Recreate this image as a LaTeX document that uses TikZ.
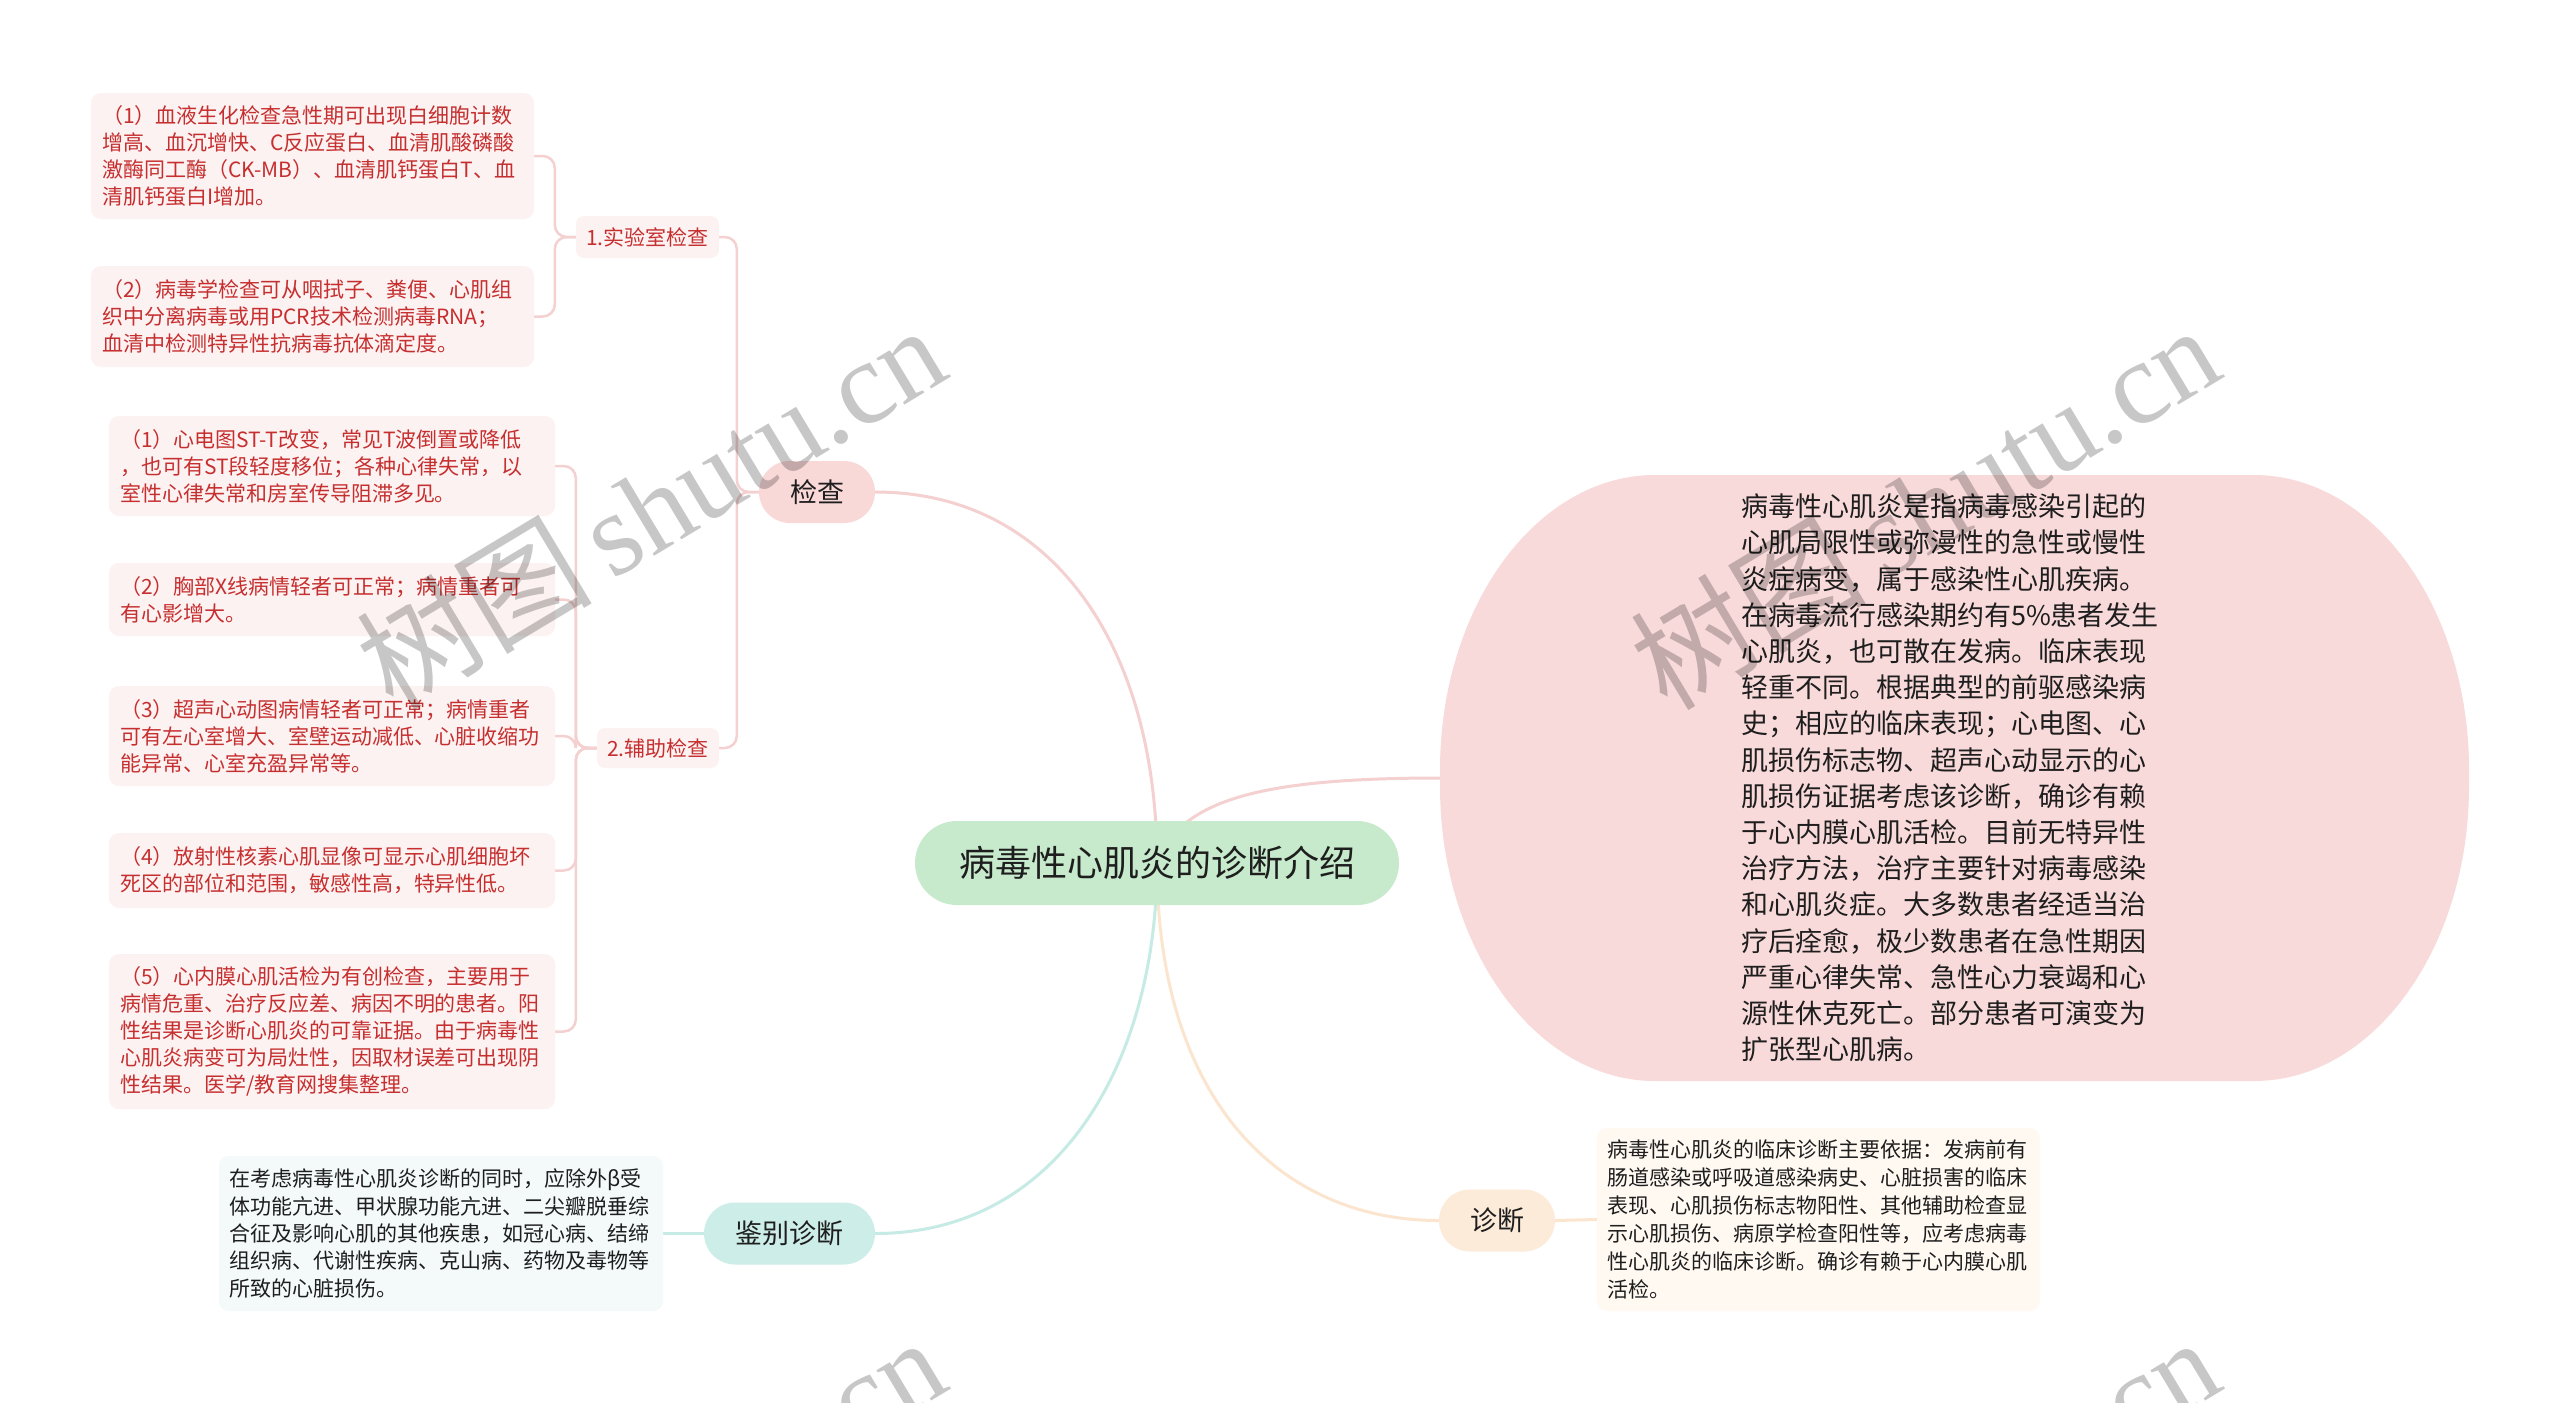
\documentclass[tikz,border=0pt]{standalone}
\usepackage{fontspec}
\newfontfamily\cjk{Noto Sans CJK SC}
\newfontfamily\wmserif{Liberation Serif}
\usetikzlibrary{backgrounds}
\definecolor{pinkline}{HTML}{F5D0D0}
\definecolor{tealline}{HTML}{C6EBE5}
\definecolor{peachline}{HTML}{FCE5CF}
\definecolor{rootfill}{HTML}{C6EACB}
\definecolor{jcfill}{HTML}{F9D8D8}
\definecolor{jbfill}{HTML}{CDEEE8}
\definecolor{zdfill}{HTML}{FDEBD9}
\definecolor{ellfill}{HTML}{F9DADA}
\definecolor{subfill}{HTML}{FDF2F2}
\definecolor{redtext}{HTML}{C62F2F}
\definecolor{jbsub}{HTML}{F3FAF9}
\definecolor{zdsub}{HTML}{FFF9F2}
\definecolor{darktext}{HTML}{1E1E1E}
\begin{document}
\begin{tikzpicture}[x=1pt,y=-1pt,
  rootnode/.style={fill=rootfill, rounded corners=42pt, minimum width=484pt, minimum height=84pt, inner sep=0pt, font=\cjk\fontsize{36}{40}\selectfont, text=darktext},
  topic/.style={rounded corners=31pt, minimum height=62pt, inner sep=0pt, font=\cjk\fontsize{27}{30}\selectfont, text=darktext},
  subtopic/.style={fill=subfill, rounded corners=8pt, minimum height=42pt, inner sep=0pt, font=\cjk\fontsize{21}{24}\selectfont, text=redtext},
  redbox/.style={fill=subfill, rounded corners=10pt, inner xsep=11pt, inner ysep=0pt, align=left, font=\cjk\fontsize{21}{27}\selectfont, text=redtext},
  darkbox/.style={rounded corners=10pt, inner xsep=10pt, inner ysep=0pt, align=left, text=darktext},
  conn/.style={line width=3pt, line cap=round},
  subconn/.style={line width=2.5pt, line cap=round, pinkline, rounded corners=12pt},
  wm/.style={rotate=31, text=black, opacity=0.22, inner sep=0pt}
]
\useasboundingbox (0,0) rectangle (2560,1403);

% root and main topics
\node[rootnode] (root) at (1157,863) {病毒性心肌炎的诊断介绍};
\node[topic, fill=jcfill, minimum width=116pt] (jc) at (817,492) {检查};
\node[topic, fill=jbfill, minimum width=171pt] (jb) at (789.5,1233.5) {鉴别诊断};
\node[topic, fill=zdfill, minimum width=116pt] (zd) at (1497,1220.5) {诊断};

% sub topics
\node[subtopic, minimum width=143pt] (lab) at (647.5,237) {1.实验室检查};
\node[subtopic, minimum width=122pt, minimum height=40pt] (fz) at (658,748) {2.辅助检查};

% lab boxes
\node[redbox, text width=421pt, minimum height=126pt] (l1) at (312.5,156) {（1）血液生化检查急性期可出现白细胞计数\\增高、血沉增快、C反应蛋白、血清肌酸磷酸\\激酶同工酶（CK-MB）、血清肌钙蛋白T、血\\清肌钙蛋白I增加。};
\node[redbox, text width=421pt, minimum height=101pt] (l2) at (312.5,316.5) {（2）病毒学检查可从咽拭子、粪便、心肌组\\织中分离病毒或用PCR技术检测病毒RNA；\\血清中检测特异性抗病毒抗体滴定度。};

% auxiliary boxes
\node[redbox, text width=424pt, minimum height=100pt] (a1) at (332,466) {（1）心电图ST-T改变，常见T波倒置或降低\\，也可有ST段轻度移位；各种心律失常，以\\室性心律失常和房室传导阻滞多见。};
\node[redbox, text width=424pt, minimum height=73pt] (a2) at (332,599.5) {（2）胸部X线病情轻者可正常；病情重者可\\有心影增大。};
\node[redbox, text width=424pt, minimum height=100pt] (a3) at (332,736) {（3）超声心动图病情轻者可正常；病情重者\\可有左心室增大、室壁运动减低、心脏收缩功\\能异常、心室充盈异常等。};
\node[redbox, text width=424pt, minimum height=75pt] (a4) at (332,870.5) {（4）放射性核素心肌显像可显示心肌细胞坏\\死区的部位和范围，敏感性高，特异性低。};
\node[redbox, text width=424pt, minimum height=155pt] (a5) at (332,1031.5) {（5）心内膜心肌活检为有创检查，主要用于\\病情危重、治疗反应差、病因不明的患者。阳\\性结果是诊断心肌炎的可靠证据。由于病毒性\\心肌炎病变可为局灶性，因取材误差可出现阴\\性结果。医学/教育网搜集整理。};

% differential diagnosis box
\node[darkbox, fill=jbsub, text width=424pt, minimum height=155pt, font=\cjk\fontsize{21}{27.3}\selectfont] (jbt) at (441,1233.5) {在考虑病毒性心肌炎诊断的同时，应除外β受\\体功能亢进、甲状腺功能亢进、二尖瓣脱垂综\\合征及影响心肌的其他疾患，如冠心病、结缔\\组织病、代谢性疾病、克山病、药物及毒物等\\所致的心脏损伤。};

% diagnosis box
\node[darkbox, fill=zdsub, text width=423pt, minimum height=183pt, font=\cjk\fontsize{21}{28}\selectfont] (zdt) at (1818.5,1219.5) {病毒性心肌炎的临床诊断主要依据：发病前有\\肠道感染或呼吸道感染病史、心脏损害的临床\\表现、心肌损伤标志物阳性、其他辅助检查显\\示心肌损伤、病原学检查阳性等，应考虑病毒\\性心肌炎的临床诊断。确诊有赖于心内膜心肌\\活检。};

% big rounded description
\node[minimum width=1029pt, minimum height=606pt, inner sep=0pt] (ell) at (1954.5,778) {};
\fill[ellfill] (1655,475) -- (2254,475)
  .. controls (2372.7,475) and (2469,607.1) .. (2469,770) -- (2469,786)
  .. controls (2469,948.9) and (2372.7,1081) .. (2254,1081) -- (1655,1081)
  .. controls (1536.3,1081) and (1440,948.9) .. (1440,786) -- (1440,770)
  .. controls (1440,607.1) and (1536.3,475) .. (1655,475) -- cycle;
\node[align=left, inner sep=0pt, text=darktext, font=\cjk\fontsize{27}{36.2}\selectfont] (elltext) at (1950,778) {病毒性心肌炎是指病毒感染引起的\\心肌局限性或弥漫性的急性或慢性\\炎症病变，属于感染性心肌疾病。\\在病毒流行感染期约有5\%患者发生\\心肌炎，也可散在发病。临床表现\\轻重不同。根据典型的前驱感染病\\史；相应的临床表现；心电图、心\\肌损伤标志物、超声心动显示的心\\肌损伤证据考虑该诊断，确诊有赖\\于心内膜心肌活检。目前无特异性\\治疗方法，治疗主要针对病毒感染\\和心肌炎症。大多数患者经适当治\\疗后痊愈，极少数患者在急性期因\\严重心律失常、急性心力衰竭和心\\源性休克死亡。部分患者可演变为\\扩张型心肌病。};

% connectors
\begin{pgfonlayer}{background}
\fill[white] (0,0) rectangle (2560,1403);
\draw[conn, pinkline] (root.center) .. controls +(0,-213) and +(180,0) .. (jc.east);
\draw[conn, pinkline] (root.center) .. controls +(23,-63) and +(-180,0) .. (ell.west);
\draw[conn, tealline] (root.center) .. controls +(0,197) and +(185,0) .. (jb.east);
\draw[conn, peachline] (root.center) .. controls +(0,237) and +(-159,0) .. (zd.west);
\draw[subconn] (jc.west) -- ++(-22,0) |- (lab.east);
\draw[subconn] (jc.west) -- ++(-22,0) |- (fz.east);
\draw[subconn] (lab.west) -- ++(-21,0) |- (l1.east);
\draw[subconn] (lab.west) -- ++(-21,0) |- (l2.east);
\foreach \c in {a1,a2,a3,a4,a5}{
  \draw[subconn] (fz.west) -- ++(-21,0) |- (\c.east);
}
\draw[conn, tealline] (jb.west) -- (jbt.east);
\draw[conn, peachline] (zd.east) -- (zdt.west);
\end{pgfonlayer}

% watermark
\begin{scope}
\clip (0,0) rectangle (2560,1403);
\node[wm] (wm1) at (650,506) {\cjk\fontsize{118}{120}\selectfont 树图\,\wmserif shutu.cn};
\node[wm] (wm2) at (1924,506) {\cjk\fontsize{118}{120}\selectfont 树图\,\wmserif shutu.cn};
\node[wm] (wm3) at (650,1518) {\cjk\fontsize{118}{120}\selectfont 树图\,\wmserif shutu.cn};
\node[wm] (wm4) at (1924,1518) {\cjk\fontsize{118}{120}\selectfont 树图\,\wmserif shutu.cn};
\end{scope}
\end{tikzpicture}
\end{document}
